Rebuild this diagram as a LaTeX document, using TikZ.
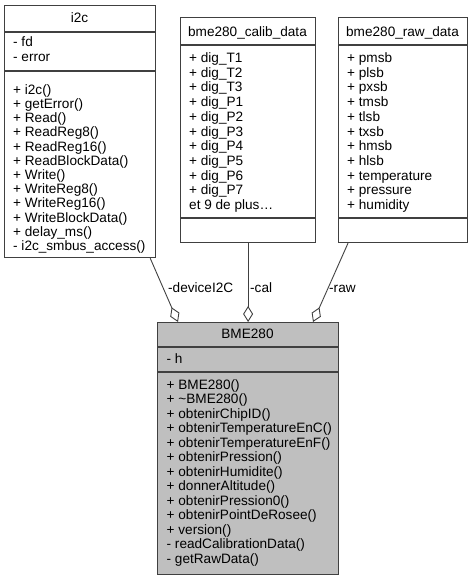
\documentclass[tikz,border=0pt]{standalone}
\usepackage{fontspec}
\setmainfont{Liberation Sans}
\usetikzlibrary{arrows.meta}

\definecolor{edge}{HTML}{404040}
\definecolor{focus}{HTML}{BFBFBF}

\tikzset{
  classbox/.style={draw=edge, line width=1.2pt, fill=white, inner sep=0pt, anchor=north west},
  focusbox/.style={classbox, fill=focus},
  sepline/.style={draw=edge, line width=1.2pt},
  % multi-line member lists are placed by the baseline of their last line
  txt/.style={inner sep=0pt, align=left, anchor=base west,
              font=\fontsize{13.6}{#1}\selectfont},
  txt/.default=14.5,
  ttl/.style={inner sep=0pt, anchor=base, font=\fontsize{13.6}{14.5}\selectfont},
  lbl/.style={inner sep=0pt, anchor=base west, font=\fontsize{13.6}{14.5}\selectfont},
  aggr/.style={draw=edge, line width=0.9pt,
               -{Diamond[open, length=16pt, width=10pt, fill=white]}},
}

\begin{document}
\begin{tikzpicture}[x=1pt, y=-1pt]
\useasboundingbox (0,0) rectangle (473,580);

% class i2c
\node[classbox, minimum width=151pt, minimum height=252pt] (i2c) at (4,5) {};
\draw[sepline] (i2c.west |- 0,32) -- (i2c.east |- 0,32);
\draw[sepline] (i2c.west |- 0,71) -- (i2c.east |- 0,71);
\node[ttl] (i2c-t) at (79.5,23) {i2c};
\node[txt=15] (i2c-a) at (13,62) {- fd\\- error};
\node[txt=14.2] (i2c-m) at (13,250.5) {+ i2c()\\+ getError()\\+ Read()\\+ ReadReg8()\\+ ReadReg16()\\+ ReadBlockData()\\+ Write()\\+ WriteReg8()\\+ WriteReg16()\\+ WriteBlockData()\\+ delay\_ms()\\- i2c\_smbus\_access()};

% struct bme280_calib_data
\node[classbox, minimum width=135pt, minimum height=225pt] (cal) at (180,17) {};
\draw[sepline] (cal.west |- 0,45) -- (cal.east |- 0,45);
\draw[sepline] (cal.west |- 0,218) -- (cal.east |- 0,218);
\node[ttl] (cal-t) at (247.5,37) {bme280\_calib\_data};
\node[txt=14.7] (cal-a) at (189,209.5) {+ dig\_T1\\+ dig\_T2\\+ dig\_T3\\+ dig\_P1\\+ dig\_P2\\+ dig\_P3\\+ dig\_P4\\+ dig\_P5\\+ dig\_P6\\+ dig\_P7\\et 9 de plus…};

% struct bme280_raw_data
\node[classbox, minimum width=129pt, minimum height=225pt] (raw) at (338,17) {};
\draw[sepline] (raw.west |- 0,45) -- (raw.east |- 0,45);
\draw[sepline] (raw.west |- 0,218) -- (raw.east |- 0,218);
\node[ttl] (raw-t) at (402.5,37) {bme280\_raw\_data};
\node[txt=14.7] (raw-a) at (347,209.5) {+ pmsb\\+ plsb\\+ pxsb\\+ tmsb\\+ tlsb\\+ txsb\\+ hmsb\\+ hlsb\\+ temperature\\+ pressure\\+ humidity};

% class BME280
\node[focusbox, minimum width=181pt, minimum height=252pt] (bme) at (157,322) {};
\draw[sepline] (bme.west |- 0,347) -- (bme.east |- 0,347);
\draw[sepline] (bme.west |- 0,372) -- (bme.east |- 0,372);
\node[ttl] (bme-t) at (247.5,338) {BME280};
\node[txt] (bme-a) at (166.5,363) {- h};
\node[txt=14.5] (bme-m) at (166.5,563) {+ BME280()\\+ \textasciitilde BME280()\\+ obtenirChipID()\\+ obtenirTemperatureEnC()\\+ obtenirTemperatureEnF()\\+ obtenirPression()\\+ obtenirHumidite()\\+ donnerAltitude()\\+ obtenirPression0()\\+ obtenirPointDeRosee()\\+ version()\\- readCalibrationData()\\- getRawData()};

% aggregation ends
\coordinate (i2c-out) at ([xshift=-6pt]i2c.south east);
\coordinate (cal-out) at (cal.south);
\coordinate (raw-out) at ([xshift=10pt]raw.south west);
\coordinate (bme-in1) at ([xshift=21pt]bme.north west);
\coordinate (bme-in2) at (cal.south |- bme.north);
\coordinate (bme-in3) at ([xshift=156pt]bme.north west);

\draw[aggr] (i2c-out) -- (bme-in1);
\draw[aggr] (cal-out) -- (bme-in2);
\draw[aggr] (raw-out) -- (bme-in3);

\node[lbl] (l1) at (168,292) {-deviceI2C};
\node[lbl] (l2) at (250,292) {-cal};
\node[lbl] (l3) at (329,292) {-raw};
\end{tikzpicture}
\end{document}
